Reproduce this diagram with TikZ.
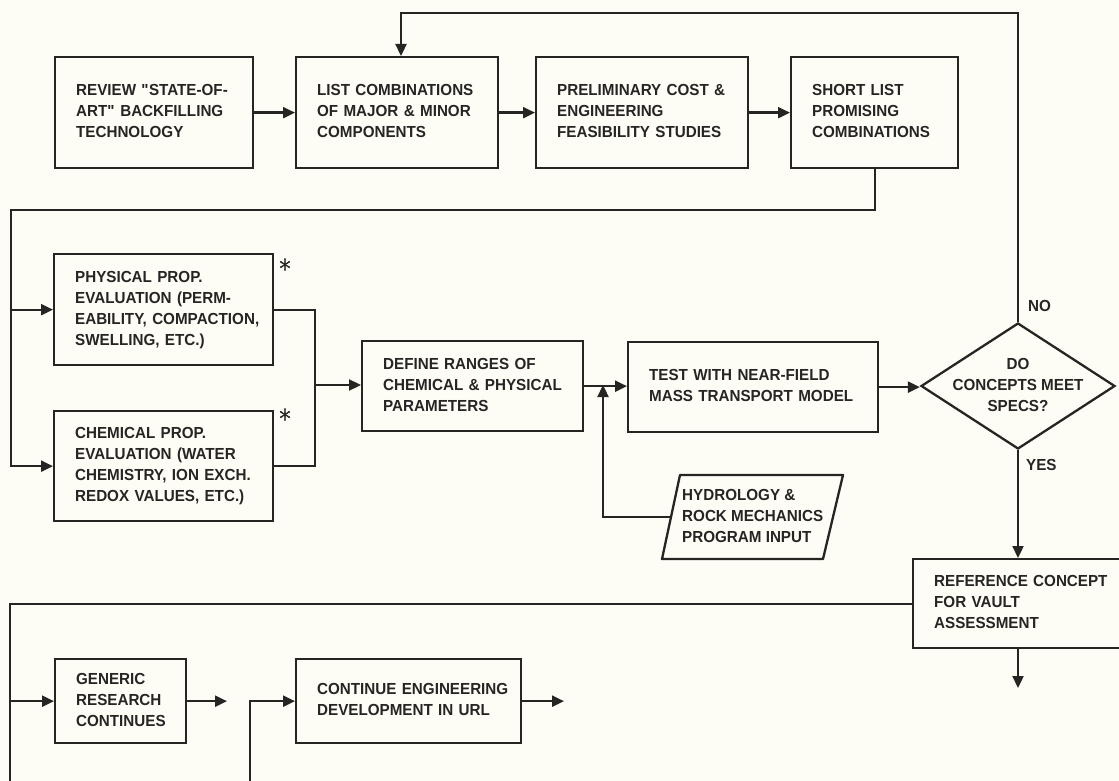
\documentclass[tikz,border=0pt]{standalone}
\usepackage{fontspec}
\setmainfont{Liberation Sans}[FakeStretch=0.95]
\newfontfamily\astfont{Latin Modern Roman}[FakeBold=1.5]
\usetikzlibrary{arrows.meta,shapes.geometric}
\definecolor{ink}{RGB}{40,36,36}
\definecolor{paper}{RGB}{253,253,246}
\newcommand{\boxlines}[1]{\begin{tabular}{@{}l@{}}#1\end{tabular}}
\begin{document}
\begin{tikzpicture}[x=1pt,y=-1pt,
  every node/.style={text=ink, font=\bfseries\fontsize{16}{21}\selectfont},
  box/.style={draw=ink, line width=2.3pt, anchor=north west, inner xsep=21pt, inner ysep=0pt, align=left},
  conn/.style={draw=ink, line width=2.3pt},
  arr/.style={conn, -{Triangle[length=12pt,width=11pt]}},
  lbl/.style={anchor=west, inner sep=0pt},
  astmark/.style={inner sep=0pt, font=\astfont\fontsize{28}{28}\selectfont}]
\useasboundingbox (0,0) rectangle (1119,781);
\fill[paper] (0,0) rectangle (1119,781);

% top row
\node[box, minimum width=198pt, minimum height=111pt, text width=156pt] (b1) at (54,56)
  {\boxlines{REVIEW \textquotedbl STATE-OF-\\ART\textquotedbl{} BACKFILLING\\TECHNOLOGY}};
\node[box, minimum width=202pt, minimum height=111pt, text width=160pt] (b2) at (295,56)
  {\boxlines{LIST COMBINATIONS\\OF MAJOR \& MINOR\\COMPONENTS}};
\node[box, minimum width=212pt, minimum height=111pt, text width=170pt] (b3) at (535,56)
  {\boxlines{PRELIMINARY COST \&\\ENGINEERING\\FEASIBILITY STUDIES}};
\node[box, minimum width=167pt, minimum height=111pt, text width=125pt] (b4) at (790,56)
  {\boxlines{SHORT LIST\\PROMISING\\COMBINATIONS}};

% middle
\node[box, minimum width=219pt, minimum height=111pt, text width=177pt] (phys) at (53,253)
  {\boxlines{PHYSICAL PROP.\\EVALUATION (PERM-\\EABILITY, COMPACTION,\\SWELLING, ETC.)}};
\node[box, minimum width=219pt, minimum height=110pt, text width=177pt] (chem) at (53,410)
  {\boxlines{CHEMICAL PROP.\\EVALUATION (WATER\\CHEMISTRY, ION EXCH.\\REDOX VALUES, ETC.)}};
\node[astmark] (ast1) at (285,269) {*};
\node[astmark] (ast2) at (285,419) {*};
\node[box, minimum width=221pt, minimum height=90pt, text width=179pt] (def) at (361,340)
  {\boxlines{DEFINE RANGES OF\\CHEMICAL \& PHYSICAL\\PARAMETERS}};
\node[box, minimum width=250pt, minimum height=90pt, text width=208pt] (test) at (627,341)
  {\boxlines{TEST WITH NEAR-FIELD\\MASS TRANSPORT MODEL}};
\node[diamond, draw=ink, line width=2.3pt, minimum width=194pt, minimum height=126pt, inner sep=0pt] (dia) at (1018,386) {};
\node[align=center, inner sep=0pt] (diat) at (1018,385) {DO\\CONCEPTS MEET\\SPECS?};
\node[lbl] (no) at (1028,306) {NO};
\node[lbl] (yes) at (1026,465) {YES};

% hydrology input
\node[lbl] (hyd) at (682,517) {\boxlines{HYDROLOGY \&\\ROCK MECHANICS\\PROGRAM INPUT}};
\draw[conn, line join=round] (680,475) -- (843,475) -- (823,559) -- (662,559) -- cycle;
\coordinate (hydl) at (671,517);

% bottom
\node[box, minimum width=212pt, minimum height=89pt, text width=170pt] (ref) at (912,558)
  {\boxlines{REFERENCE CONCEPT\\FOR VAULT\\ASSESSMENT}};
\node[box, minimum width=131pt, minimum height=84pt, text width=89pt] (gen) at (54,658)
  {\boxlines{GENERIC\\RESEARCH\\CONTINUES}};
\node[box, minimum width=225pt, minimum height=84pt, text width=183pt] (cont) at (295,658)
  {\boxlines{CONTINUE ENGINEERING\\DEVELOPMENT IN URL}};

% connectors
\draw[arr] (b1.east) -- (b2.west);
\draw[arr] (b2.east) -- (b3.west);
\draw[arr] (b3.east) -- (b4.west);
\coordinate (fb) at (401,13);
\draw[arr] (dia.north) |- (fb) -- (fb |- b2.north);
\coordinate (s1) at (11,210);
\draw[arr] (b4.south) |- (s1) |- (chem.west);
\draw[arr] (s1 |- phys.west) -- (phys.west);
\coordinate (m) at (315,385);
\draw[conn] (phys.east) -| (m) |- (chem.east);
\draw[arr] (m) -- (m -| def.west);
\draw[arr] (def.east) -- (def.east -| test.west);
\coordinate (j) at (603,385);
\draw[arr] (hydl) -| (j);
\draw[arr] (test.east) -- (test.east -| dia.west);
\draw[arr] (dia.south) -- (dia.south |- ref.north);
\coordinate (e1) at (10,790);
\draw[conn] (ref.west) -| (e1);
\draw[arr] (e1 |- gen.west) -- (gen.west);
\coordinate (g1) at (227,0);
\draw[arr] (gen.east) -- (gen.east -| g1);
\coordinate (v2) at (250,790);
\draw[arr] (v2) |- (cont.west);
\coordinate (c1) at (564,0);
\draw[arr] (cont.east) -- (cont.east -| c1);
\coordinate (r1) at (0,688);
\draw[arr] (dia.south |- ref.south) -- (dia.south |- r1);
\end{tikzpicture}
\end{document}
